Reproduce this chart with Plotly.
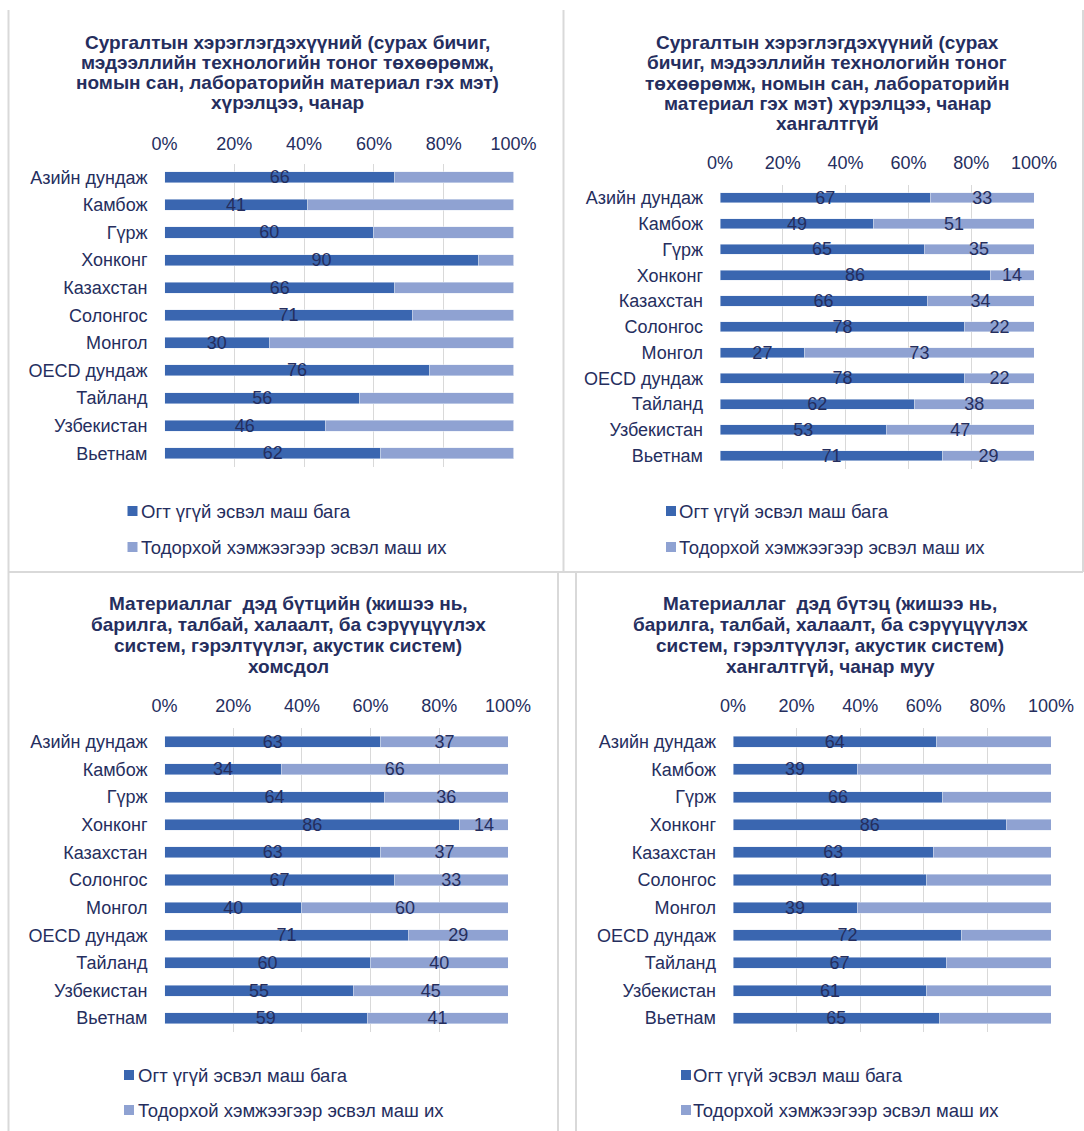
import plotly.graph_objects as go

# Categories (top to bottom)
countries = ["Азийн дундаж", "Камбож", "Гүрж", "Хонконг", "Казахстан", "Солонгос",
             "Монгол", "OECD дундаж", "Тайланд", "Узбекистан", "Вьетнам"]

series_low = "Огт үгүй эсвэл маш бага"
series_high = "Тодорхой хэмжээгээр эсвэл маш их"

# Panel 1: access to / quality of instructional materials
p1_low = [66, 41, 60, 90, 66, 71, 30, 76, 56, 46, 62]
p1_high = [34, 59, 40, 10, 34, 29, 70, 24, 44, 54, 38]

# Panel 2: instructional materials insufficient
p2_low = [67, 49, 65, 86, 66, 78, 27, 78, 62, 53, 71]
p2_high = [33, 51, 35, 14, 34, 22, 73, 22, 38, 47, 29]

# Panel 3: physical infrastructure shortage
p3_low = [63, 34, 64, 86, 63, 67, 40, 71, 60, 55, 59]
p3_high = [37, 66, 36, 14, 37, 33, 60, 29, 40, 45, 41]

# Panel 4: physical infrastructure insufficient / poor quality
p4_low = [64, 39, 66, 86, 63, 61, 39, 72, 67, 61, 65]
p4_high = [36, 61, 34, 14, 37, 39, 61, 28, 33, 39, 35]

tick_vals = [0, 20, 40, 60, 80, 100]
tick_text = ["0%", "20%", "40%", "60%", "80%", "100%"]

titles = [
    ["Сургалтын хэрэглэгдэхүүний (сурах бичиг,",
     "мэдээллийн технологийн тоног төхөөрөмж,",
     "номын сан, лабораторийн материал гэх мэт)",
     "хүрэлцээ, чанар"],
    ["Сургалтын хэрэглэгдэхүүний (сурах",
     "бичиг, мэдээллийн технологийн тоног",
     "төхөөрөмж, номын сан, лабораторийн",
     "материал гэх мэт) хүрэлцээ, чанар",
     "хангалтгүй"],
    ["Материаллаг  дэд бүтцийн (жишээ нь,",
     "барилга, талбай, халаалт, ба сэрүүцүүлэх",
     "систем, гэрэлтүүлэг, акустик систем)",
     "хомсдол"],
    ["Материаллаг  дэд бүтэц (жишээ нь,",
     "барилга, талбай, халаалт, ба сэрүүцүүлэх",
     "систем, гэрэлтүүлэг, акустик систем)",
     "хангалтгүй, чанар муу"],
]

W, H = 1084, 1131
DARK = "#3A66B0"
LIGHT = "#8FA2D2"
TEXT = "#252E5E"
GRID = "#D9D9D9"
FONT = "Liberation Sans, Arial, sans-serif"


def px(x):
    return x / W


def py(y):
    return 1 - y / H


# Plot areas in pixels: (left, right, top, bottom)
boxes = [(164.5, 513.5, 163.5, 467), (720, 1034, 185, 468.5),
         (164.5, 508, 728, 1032), (733, 1051, 728, 1032)]
bar_width = [0.4, 0.39, 0.4, 0.4]
tick_standoff = [9, 11, 11, 11]
# Title: centre x, first line y, line step
title_pos = [(287, 42, 20.3), (827, 42, 20.5), (288, 603, 21.2), (830, 603, 21.2)]
# Legend: square left x, text left x, first row y, second row y
legend_pos = [(127.5, 138.5, 511, 547), (666, 677, 511, 547),
              (124, 135.5, 1075, 1110), (681, 691, 1075, 1110)]
panels = [(p1_low, p1_high, False), (p2_low, p2_high, True),
          (p3_low, p3_high, True), (p4_low, p4_high, False)]

fig = go.Figure()

for i, (low, high, label_high) in enumerate(panels):
    n = "" if i == 0 else str(i + 1)
    fig.add_trace(go.Bar(
        y=countries, x=low, orientation="h", name=series_low,
        marker_color=DARK, width=bar_width[i], showlegend=False,
        text=low, textposition="inside", insidetextanchor="middle",
        constraintext="none", textfont=dict(color=TEXT, size=18, family=FONT),
        xaxis="x" + n, yaxis="y" + n,
    ))
    fig.add_trace(go.Bar(
        y=countries, x=high, orientation="h", name=series_high,
        marker_color=LIGHT, width=bar_width[i], showlegend=False,
        text=high if label_high else None,
        textposition="inside" if label_high else "none", insidetextanchor="middle",
        constraintext="none", textfont=dict(color=TEXT, size=18, family=FONT),
        xaxis="x" + n, yaxis="y" + n,
    ))

    l, r, t, b = boxes[i]
    fig.layout["xaxis" + n] = dict(
        domain=[px(l), px(r)], range=[0, 100], side="top", anchor="y" + n,
        tickvals=tick_vals, ticktext=tick_text,
        showgrid=True, gridcolor=GRID, gridwidth=1, zeroline=False, showline=False,
        ticks="", ticklabelstandoff=tick_standoff[i], automargin=False,
        tickfont=dict(size=18, color=TEXT, family=FONT), fixedrange=True,
    )
    fig.layout["yaxis" + n] = dict(
        domain=[py(b), py(t)], anchor="x" + n, autorange="reversed",
        showgrid=False, zeroline=False, showline=False, ticks="",
        ticklabelstandoff=16, automargin=False,
        tickfont=dict(size=18, color=TEXT, family=FONT), fixedrange=True,
    )

    # Panel title, one annotation per line
    tx, ty, step = title_pos[i]
    for k, line in enumerate(titles[i]):
        fig.add_annotation(
            text="<b>" + line + "</b>", xref="paper", yref="paper",
            x=px(tx), y=py(ty + k * step), xanchor="center", yanchor="middle",
            showarrow=False, font=dict(size=19, color=TEXT, family=FONT),
        )

    # Legend keys
    sx, lx, y1, y2 = legend_pos[i]
    for yy, name, col in [(y1, series_low, DARK), (y2, series_high, LIGHT)]:
        fig.add_shape(type="rect", xref="paper", yref="paper",
                      x0=px(sx), x1=px(sx + 10), y0=py(yy - 5), y1=py(yy + 5),
                      fillcolor=col, line=dict(width=0))
        fig.add_annotation(
            text=name, xref="paper", yref="paper", x=px(lx), y=py(yy),
            xanchor="left", yanchor="middle", showarrow=False,
            font=dict(size=18.5, color=TEXT, family=FONT),
        )

# Panel frames
frame = dict(type="line", xref="paper", yref="paper", line=dict(color=GRID, width=2))
for x0, y0, x1, y1 in [
    (8.5, 10, 8.5, 572), (563.5, 10, 563.5, 572), (1083, 10, 1083, 572), (8.5, 572, 1083, 572),
    (8.5, 572, 8.5, 1131), (558, 572, 558, 1131), (576, 572, 576, 1131),
]:
    fig.add_shape(frame, x0=px(x0), y0=py(y0), x1=px(x1), y1=py(y1))

fig.update_layout(
    width=W, height=H, margin=dict(l=0, r=0, t=0, b=0, autoexpand=False),
    barmode="stack", plot_bgcolor="white", paper_bgcolor="white",
    font=dict(family=FONT, color=TEXT), showlegend=False,
)

fig.write_html("out.html", config={"responsive": False})
